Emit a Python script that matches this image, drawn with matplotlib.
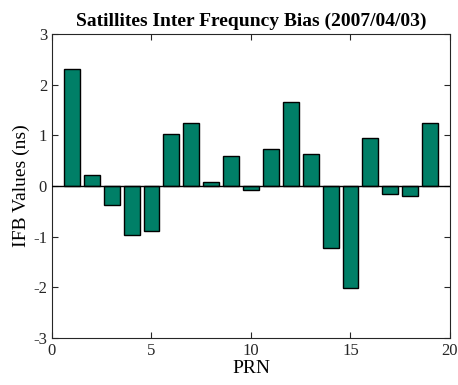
import matplotlib
matplotlib.use("Agg")
import matplotlib.pyplot as plt

prn = list(range(1, 20))
ifb = [2.30, 0.22, -0.37, -0.97, -0.89, 1.03, 1.24, 0.07, 0.59, -0.08,
       0.74, 1.65, 0.63, -1.22, -2.02, 0.95, -0.16, -0.20, 1.24]
xticks = [0, 5, 10, 15, 20]
yticks = [-3, -2, -1, 0, 1, 2, 3]

plt.rcParams['font.family'] = ['Liberation Serif', 'DejaVu Serif']
plt.rcParams['axes.unicode_minus'] = False

fig = plt.figure(figsize=(4.58, 3.85), dpi=100)
ax = fig.add_axes([0.1135, 0.122, 0.869, 0.7897])

ax.bar(prn, ifb, width=0.8, color='#007f67', edgecolor='black', linewidth=1.0, zorder=2)
ax.axhline(0, color='black', linewidth=1.0, zorder=3)

ax.set_xlim(0, 20)
ax.set_ylim(-3, 3)
ax.set_xticks(xticks)
ax.set_yticks(yticks)
ax.tick_params(direction='in', length=4, width=0.8, top=True, right=True,
               labelsize=12, colors='#262626')
for s in ax.spines.values():
    s.set_color('#262626')
    s.set_linewidth(0.8)

ax.set_xlabel('PRN', fontsize=14, labelpad=1)
ax.set_ylabel('IFB Values (ns)', fontsize=14, labelpad=2)
ax.set_title('Satillites Inter Frequncy Bias (2007/04/03)', fontsize=14,
             fontweight='bold', pad=6)

fig.savefig('out.png', dpi=100)
